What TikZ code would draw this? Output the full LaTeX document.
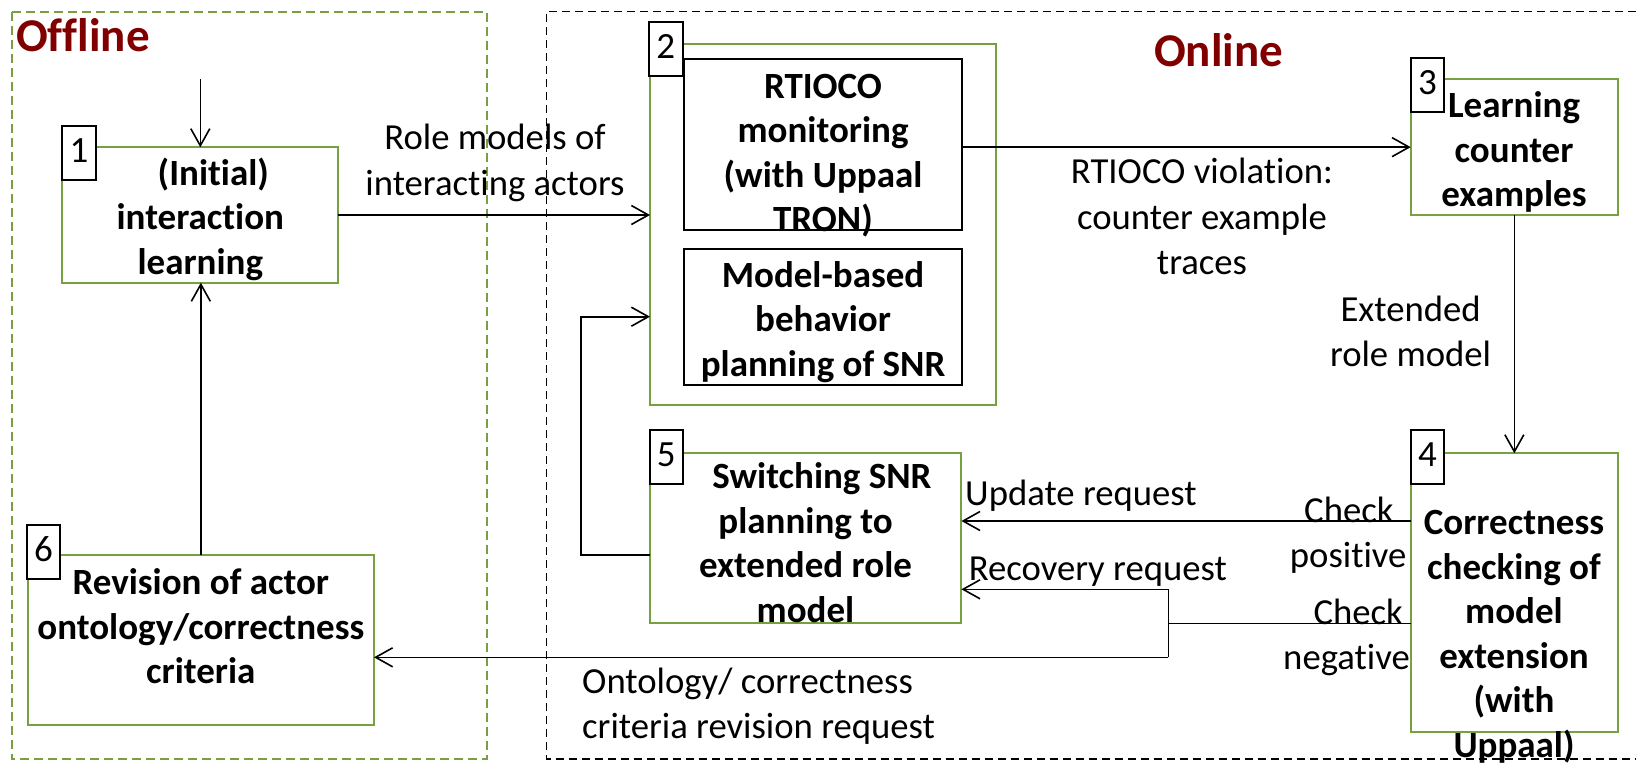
\documentclass[tikz,border=0pt]{standalone}
\usepackage{fontspec}
\setmainfont{Carlito}[Ligatures=NoCommon]
\usetikzlibrary{arrows.meta}
\definecolor{boxgreen}{RGB}{119,160,64}
\definecolor{titlered}{RGB}{128,0,0}

\begin{document}
\begin{tikzpicture}[x=1pt,y=-1pt,
  gbox/.style={draw=boxgreen, line width=2pt, inner sep=0pt, outer sep=0pt, anchor=north west},
  kbox/.style={draw=black, line width=2pt, inner sep=0pt, outer sep=0pt, anchor=north west},
  tag/.style={draw=black, fill=white, line width=2pt, inner sep=0pt, outer sep=0pt,
    minimum width=33.5pt, minimum height=54pt, anchor=north west},
  tagnum/.style={inner sep=0pt, anchor=base, font=\fontsize{37}{44}\selectfont},
  % multi-line texts are placed by the baseline of their last line
  boxtxt/.style={align=center, anchor=base, inner sep=0pt, font=\fontsize{37}{44.5}\selectfont\bfseries},
  lbl/.style={inner sep=0pt, anchor=base, font=\fontsize{36.7}{45.5}\selectfont},
  conn/.style={line width=1.6pt},
  arr/.style={conn, -{Straight Barb[length=17pt,width=19pt,line width=1.6pt]}},
  title/.style={inner sep=0pt, anchor=base, text=titlered, font=\fontsize{47}{50}\selectfont\bfseries}
]
\useasboundingbox (0,0) rectangle (1636,764);

% offline and online regions
\draw[boxgreen, line width=1.6pt, dash pattern=on 9pt off 5pt] (11.7,11.7) rectangle (487,759);
\draw[black, line width=1.4pt, dash pattern=on 8pt off 5pt]
  (1636,11.7) -- (546.5,11.7) -- (546.5,759) -- (1636,759);
\node[title, anchor=base west] (offl) at (16,51.5) {Offline};
\node[title] (onl) at (1218.6,66) {Online};

% process boxes
\node[gbox, minimum width=276pt, minimum height=135.4pt] (b1) at (62.3,147.3) {};
\node[gbox, minimum width=346pt, minimum height=360.7pt] (b2) at (650,44.3) {};
\node[kbox, minimum width=277.4pt, minimum height=171pt] (bA) at (684.3,59) {};
\node[kbox, minimum width=277.4pt, minimum height=136pt] (bB) at (684.3,249) {};
\node[gbox, minimum width=207.3pt, minimum height=135.7pt] (b3) at (1410.7,79.3) {};
\node[gbox, minimum width=207.3pt, minimum height=278.4pt] (b4) at (1410.7,453.3) {};
\node[gbox, minimum width=311.8pt, minimum height=170.6pt] (b5) at (649.6,452.7) {};
\node[gbox, minimum width=346.3pt, minimum height=170pt] (b6) at (27.7,555) {};

% number tags
\node[tag] (t1) at (62.3,126) {};
\node[tag] (t2) at (649,22.3) {};
\node[tag] (t3) at (1410.7,58.3) {};
\node[tag] (t4) at (1410.7,430) {};
\node[tag] (t5) at (649.6,430) {};
\node[tag] (t6) at (26.7,525) {};
\node[tagnum] (n1) at ([yshift=-36pt]t1.north) {1};
\node[tagnum] (n2) at ([yshift=-36pt]t2.north) {2};
\node[tagnum] (n3) at ([yshift=-36pt]t3.north) {3};
\node[tagnum] (n4) at ([yshift=-36pt]t4.north) {4};
\node[tagnum] (n5) at ([yshift=-36pt]t5.north) {5};
\node[tagnum] (n6) at ([yshift=-36pt]t6.north) {6};

% box texts
\node[boxtxt] (b1txt) at (200.3,274) {\hspace*{26pt}(Initial)\\interaction\\learning};
\node[boxtxt] (bAtxt) at (823,231.5) {RTIOCO\\monitoring\\(with Uppaal\\TRON)};
\node[boxtxt] (bBtxt) at (823,376) {Model-based\\behavior\\planning of SNR};
\node[boxtxt] (b3txt) at (1514,206.5) {Learning\\counter\\examples};
\node[boxtxt] (b4txt) at (1514,757) {Correctness\\checking of\\model\\extension\\(with\\Uppaal)};
\node[boxtxt] (b5txt) at (805.5,622) {\hspace*{33pt}Switching SNR\\planning to\\extended role\\model};
\node[boxtxt] (b6txt) at (200.8,683.5) {Revision of actor\\ontology/correctness\\criteria};

% connectors
\coordinate (entry) at (200.3,79);
\draw[arr] (entry) -- (b1.north);
\draw[arr] (b6.north) -- (b6.north |- b1.south);
\draw[arr] (b1.east) -- (b2.west |- b1.east);
\draw[arr] (bA.east |- b3.west) -- (b3.west);
\draw[arr] (b3.south) -- (b4.north);
\draw[arr] (b4.west |- 0,521) -- (b5.east |- 0,521);
\coordinate (split) at (1168.3,623.3);
\draw[conn] (b4.west |- split) -- (split);
\draw[conn] (split |- 0,589.3) -- (split |- 0,657.3);
\draw[arr] (split |- 0,589.3) -- (b5.east |- 0,589.3);
\draw[arr] (split |- 0,657.3) -- (b6.east |- 0,657.3);
\coordinate (fbk) at (581,555);
\draw[arr] (b5.west |- fbk) -- (fbk) -- (fbk |- 0,316.7) -- (b2.west |- 0,316.7);

% connector labels
\node[lbl, align=center] (lrole) at (495,195) {Role models of\\interacting actors};
\node[lbl, align=center] (lviol) at (1202,274.5) {RTIOCO violation:\\counter example\\traces};
\node[lbl, align=center] (lext) at (1410.6,366.5) {Extended\\role model};
\node[lbl, anchor=base west] (lupd) at (965,505.5) {Update request};
\node[lbl, anchor=base west] (lrec) at (968.6,580.5) {Recovery request};
\node[lbl, anchor=base east, align=right] (lpos) at (1406.7,567.5) {Check\hspace*{13pt}\\positive};
\node[lbl, anchor=base east, align=right] (lneg) at (1410,669.8) {Check\hspace*{7pt}\\negative};
\node[lbl, anchor=base west, align=left] (lont) at (582,738.5) {Ontology/ correctness\\criteria revision request};
\end{tikzpicture}
\end{document}
